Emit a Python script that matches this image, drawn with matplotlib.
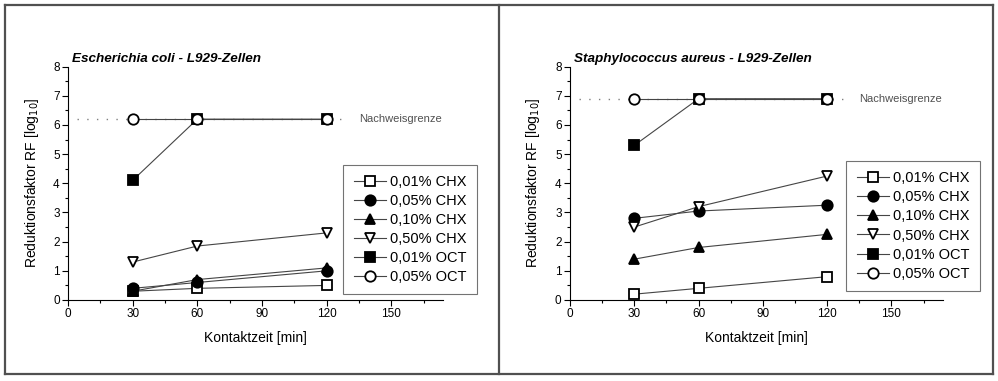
import numpy as np
import matplotlib.pyplot as plt
from matplotlib.lines import Line2D

plt.rcParams['font.family'] = ['Liberation Sans', 'DejaVu Sans']

# Kontaktzeit [min]
zeit = [30, 60, 120]

labels = ['0,01% CHX', '0,05% CHX', '0,10% CHX', '0,50% CHX', '0,01% OCT', '0,05% OCT']
markers = ['s', 'o', '^', 'v', 's', 'o']
filled = [False, True, True, False, True, False]

# Escherichia coli - L929-Zellen
ecoli = [
    [0.3, 0.4, 0.5],
    [0.4, 0.6, 1.0],
    [0.3, 0.7, 1.1],
    [1.3, 1.85, 2.3],
    [4.1, 6.2, 6.2],
    [6.2, 6.2, 6.2],
]
ecoli_grenze = 6.2

# Staphylococcus aureus - L929-Zellen
saureus = [
    [0.2, 0.4, 0.8],
    [2.8, 3.05, 3.25],
    [1.4, 1.8, 2.25],
    [2.5, 3.2, 4.25],
    [5.3, 6.9, 6.9],
    [6.9, 6.9, 6.9],
]
saureus_grenze = 6.9

LINE_COL = '#454545'


def draw_panel(ax, data, grenze, title, leg_box):
    # Nachweisgrenze
    ax.plot([4, 129], [grenze, grenze], color='#808080', lw=1.0,
            linestyle=(0, (1, 6)), zorder=1)
    ax.text(135, grenze, 'Nachweisgrenze', color='#505050', fontsize=8,
            va='center', ha='left')

    handles = []
    for vals, lab, m, f in zip(data, labels, markers, filled):
        ax.plot(zeit, vals, color=LINE_COL, lw=0.8, zorder=2)
        ax.plot(zeit, vals, linestyle='none', marker=m, markersize=7.5,
                markerfacecolor='black' if f else 'white',
                markeredgecolor='black', markeredgewidth=1.3, zorder=3,
                clip_on=False)
        handles.append(Line2D([], [], color=LINE_COL, lw=0.8, marker=m,
                              markersize=7.5,
                              markerfacecolor='black' if f else 'white',
                              markeredgecolor='black', markeredgewidth=1.3))

    ax.set_xlim(0, 174)
    ax.set_ylim(0, 8)
    ax.set_xticks([0, 30, 60, 90, 120, 150])
    ax.set_xticks(np.arange(15, 175, 30), minor=True)
    ax.set_yticks(range(0, 9))
    ax.set_yticks(np.arange(0.5, 8, 1), minor=True)
    ax.tick_params(labelsize=8.5, length=4, width=0.8, direction='out', pad=2)
    ax.tick_params(which='minor', length=2.5, width=0.8)
    for s in ['top', 'right']:
        ax.spines[s].set_visible(False)
    for s in ['left', 'bottom']:
        ax.spines[s].set_linewidth(0.8)

    ax.set_xlabel('Kontaktzeit [min]', fontsize=10, labelpad=8)
    ax.set_ylabel('Reduktionsfaktor RF [log$_{10}$]', fontsize=10, labelpad=9)
    ax.text(0.01, 1.005, title, transform=ax.transAxes, fontsize=9.7,
            fontweight='bold', fontstyle='italic', va='bottom', ha='left')

    leg = ax.legend(handles, labels, loc='center', bbox_to_anchor=leg_box,
                    fontsize=10.5, frameon=True, fancybox=False,
                    edgecolor='#505050', handlelength=2.2, handletextpad=0.3,
                    labelspacing=0.35, borderpad=0.7)
    leg.get_frame().set_linewidth(0.8)


fig = plt.figure(figsize=(9.98, 3.81), dpi=100)

ax1 = fig.add_axes([0.0681, 0.2126, 0.3758, 0.6125])
draw_panel(ax1, ecoli, ecoli_grenze, 'Escherichia coli - L929-Zellen',
           (0.744, 0.034, 0.336, 0.536))

ax2 = fig.add_axes([0.5711, 0.2126, 0.3737, 0.6125])
draw_panel(ax2, saureus, saureus_grenze, 'Staphylococcus aureus - L929-Zellen',
           (0.735, 0.021, 0.370, 0.592))

# panel frames
frame_col = '#505050'
W, H = 998, 381
for xs, ys in [([4.5, 992.5], [4.5, 4.5]), ([4.5, 992.5], [373.5, 373.5]),
               ([4.5, 4.5], [4.5, 373.5]), ([992.5, 992.5], [4.5, 373.5]),
               ([499, 499], [4.5, 373.5])]:
    fig.add_artist(Line2D([x / W for x in xs], [1 - y / H for y in ys],
                          color=frame_col, lw=1.6))

fig.savefig('out.png', dpi=100)
